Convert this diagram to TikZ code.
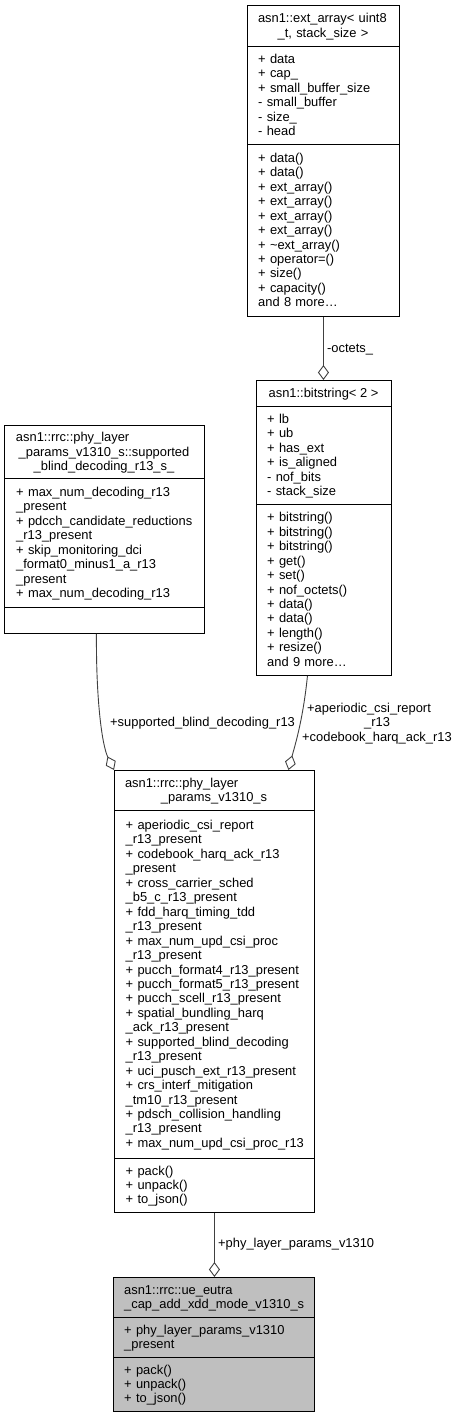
\documentclass[tikz,border=0pt]{standalone}
\usepackage{fontspec}
\setmainfont{Liberation Sans}
\usetikzlibrary{arrows.meta}
\definecolor{edgegray}{HTML}{404040}
\definecolor{fillgray}{HTML}{BFBFBF}
\begin{document}
\begin{tikzpicture}[x=1pt,y=-1pt,
  box/.style={draw=black, line width=0.9pt, inner sep=0pt, anchor=north west},
  sep/.style={draw=black, line width=0.9pt},
  txt/.style={font=\fontsize{12.9}{14.45}\selectfont, inner sep=0pt, align=left, text width=190pt, anchor=base west},
  ttl/.style={font=\fontsize{12.9}{14.45}\selectfont, inner sep=0pt, align=center, anchor=base},
  lbl/.style={font=\fontsize{12.9}{14.45}\selectfont, inner sep=0pt, align=left, anchor=base west},
  edge/.style={draw=edgegray, line width=0.9pt, -{Diamond[open, length=15pt, width=11pt, line width=0.9pt]}}]
\useasboundingbox (0,0) rectangle (457,1417);

% Box A: ext_array
\node[box, minimum width=152pt, minimum height=311pt] (A) at (247,5) {};
\draw[sep] (247,46) -- (399,46);
\draw[sep] (247,144) -- (399,144);
\node[ttl, text width=130pt] (Atitle) at (323,22.8) {\makebox[\linewidth][l]{asn1::ext\_array< uint8}\\\_t, stack\_size >};
\node[txt] (Aattr) at (258,63.4) {+ data\\+ cap\_\\+ small\_buffer\_size\\- small\_buffer\\- size\_\\- head};
\node[txt] (Ameth) at (258,162.3) {+ data()\\+ data()\\+ ext\_array()\\+ ext\_array()\\+ ext\_array()\\+ ext\_array()\\+ \textasciitilde ext\_array()\\+ operator=()\\+ size()\\+ capacity()\\and 8 more\ldots};

% Box B: bitstring
\node[box, minimum width=135pt, minimum height=295pt] (B) at (256,380) {};
\draw[sep] (256,406) -- (391,406);
\draw[sep] (256,504) -- (391,504);
\node[ttl] (Btitle) at (323.5,397.5) {asn1::bitstring< 2 >};
\node[txt] (Battr) at (267,423.4) {+ lb\\+ ub\\+ has\_ext\\+ is\_aligned\\- nof\_bits\\- stack\_size};
\node[txt] (Bmeth) at (267,521.8) {+ bitstring()\\+ bitstring()\\+ bitstring()\\+ get()\\+ set()\\+ nof\_octets()\\+ data()\\+ data()\\+ length()\\+ resize()\\and 9 more\ldots};

% Box C: supported_blind_decoding
\node[box, minimum width=200pt, minimum height=208pt] (C) at (4,425) {};
\draw[sep] (4,478) -- (204,478);
\draw[sep] (4,607) -- (204,607);
\node[ttl, text width=176pt] (Ctitle) at (104,441.6) {\makebox[\linewidth][l]{asn1::rrc::phy\_layer}\\\_params\_v1310\_s::supported\\\_blind\_decoding\_r13\_s\_};
\node[txt] (Cattr) at (16,496.4) {+ max\_num\_decoding\_r13\\\_present\\+ pdcch\_candidate\_reductions\\\_r13\_present\\+ skip\_monitoring\_dci\\\_format0\_minus1\_a\_r13\\\_present\\+ max\_num\_decoding\_r13};

% Box D: phy_layer_params_v1310_s
\node[box, minimum width=200pt, minimum height=442pt] (D) at (114,770) {};
\draw[sep] (114,810) -- (314,810);
\draw[sep] (114,1158) -- (314,1158);
\node[ttl, text width=178pt] (Dtitle) at (214,787.3) {\makebox[\linewidth][l]{asn1::rrc::phy\_layer}\\\_params\_v1310\_s};
\node[txt] (Dattr) at (125.5,829.5) {+ aperiodic\_csi\_report\\\_r13\_present\\+ codebook\_harq\_ack\_r13\\\_present\\+ cross\_carrier\_sched\\\_b5\_c\_r13\_present\\+ fdd\_harq\_timing\_tdd\\\_r13\_present\\+ max\_num\_upd\_csi\_proc\\\_r13\_present\\+ pucch\_format4\_r13\_present\\+ pucch\_format5\_r13\_present\\+ pucch\_scell\_r13\_present\\+ spatial\_bundling\_harq\\\_ack\_r13\_present\\+ supported\_blind\_decoding\\\_r13\_present\\+ uci\_pusch\_ext\_r13\_present\\+ crs\_interf\_mitigation\\\_tm10\_r13\_present\\+ pdsch\_collision\_handling\\\_r13\_present\\+ max\_num\_upd\_csi\_proc\_r13};
\node[txt] (Dmeth) at (125.5,1175) {+ pack()\\+ unpack()\\+ to\_json()};

% Box E: ue_eutra_cap_add_xdd_mode_v1310_s
\node[box, fill=fillgray, minimum width=201pt, minimum height=134pt] (E) at (113,1277) {};
\draw[sep] (113,1317) -- (314,1317);
\draw[sep] (113,1357) -- (314,1357);
\node[txt] (Etitle) at (124,1294.3) {asn1::rrc::ue\_eutra\\\_cap\_add\_xdd\_mode\_v1310\_s};
\node[txt] (Eattr) at (124,1334.3) {+ phy\_layer\_params\_v1310\\\_present};
\node[txt] (Emeth) at (124,1374) {+ pack()\\+ unpack()\\+ to\_json()};

% Connectors
\draw[edge] (A.south) -- (A.south |- B.north);
\node[lbl] (Lo) at (327,352.5) {-octets\_};

\draw[edge] ([xshift=-16.5pt]B.south) .. controls (303,720) and (295,745) .. ([xshift=74pt]D.north);
\node[lbl, text width=160pt] (Lb) at (302,712.5) {\hspace*{5pt}+aperiodic\_csi\_report\\\hspace*{62pt}\_r13\\+codebook\_harq\_ack\_r13};

\draw[edge] ([xshift=-8pt]C.south) .. controls (96,700) and (102,745) .. (D.north west);
\node[lbl] (Lc) at (110,726.5) {+supported\_blind\_decoding\_r13};

\draw[edge] (D.south) -- (D.south |- E.north);
\node[lbl] (Ld) at (218,1247.5) {+phy\_layer\_params\_v1310};
\end{tikzpicture}
\end{document}
